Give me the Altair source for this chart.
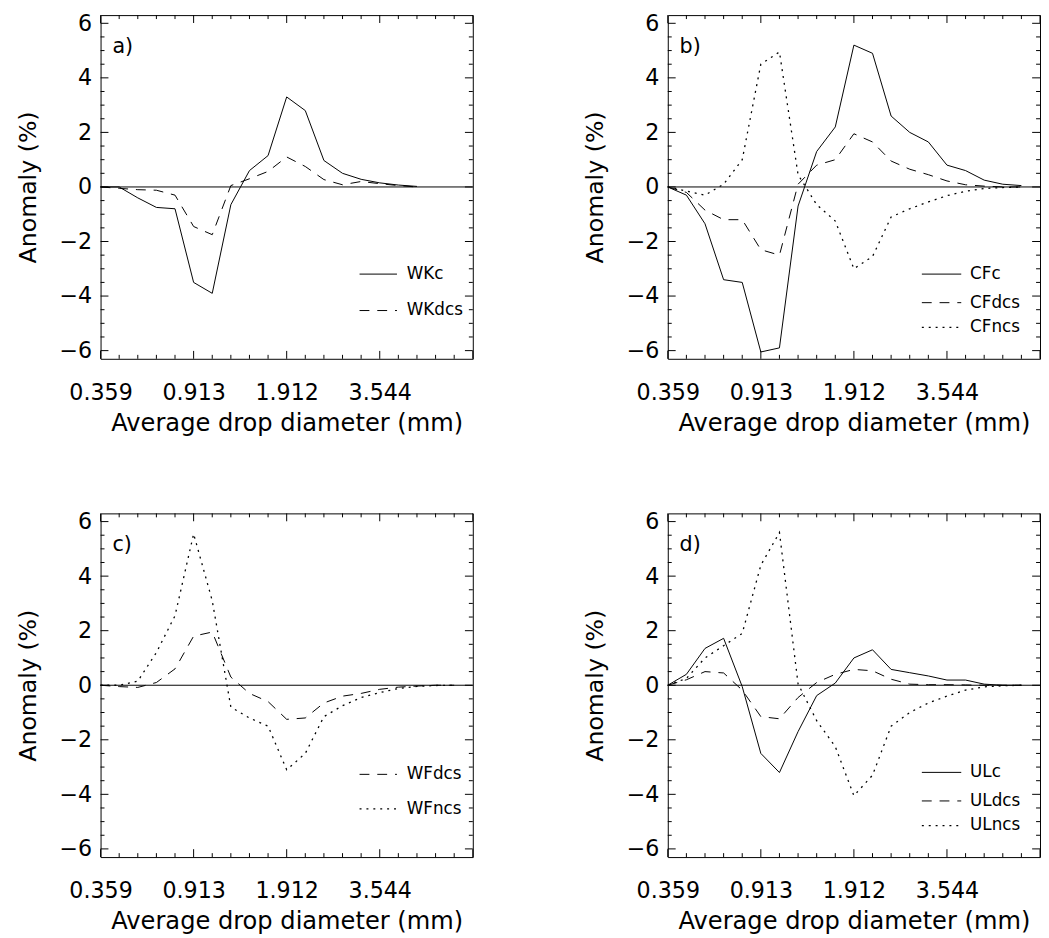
import altair as alt
import pandas as pd

FONT = "DejaVu Sans"

# x positions are bin indices 0..20; labelled bins
X_TICK_POS = [0, 5, 10, 15]
X_TICK_LABELS = ["0.359", "0.913", "1.912", "3.544"]
Y_TICKS = [-6, -4, -2, 0, 2, 4, 6]

# panel a
WKc = [0, 0, -0.4, -0.75, -0.8, -3.5, -3.9, -0.65, 0.6, 1.15, 3.3, 2.8, 0.97, 0.5, 0.28, 0.15, 0.07, 0.02]
WKdcs = [0, -0.05, -0.1, -0.12, -0.3, -1.45, -1.75, 0.05, 0.3, 0.57, 1.1, 0.75, 0.27, 0.08, 0.2, 0.12, 0.05, 0.0]
# panel b
CFc = [0, -0.3, -1.35, -3.4, -3.5, -6.05, -5.9, -0.7, 1.3, 2.2, 5.2, 4.9, 2.6, 2.0, 1.65, 0.8, 0.6, 0.25, 0.1, 0.05]
CFdcs = [0, -0.2, -0.85, -1.2, -1.2, -2.3, -2.5, 0.1, 0.8, 1.0, 1.95, 1.65, 0.95, 0.65, 0.45, 0.22, 0.08, 0.03, 0.0, 0.0]
CFncs = [0, -0.15, -0.3, 0.1, 1.0, 4.5, 4.95, 0.45, -0.65, -1.25, -3.0, -2.55, -1.1, -0.8, -0.55, -0.32, -0.16, -0.06, -0.02, 0.0]
# panel c
WFdcs = [0, -0.05, -0.08, 0.1, 0.6, 1.8, 1.95, 0.3, -0.3, -0.6, -1.25, -1.2, -0.65, -0.4, -0.3, -0.15, -0.07, -0.03, 0.0, 0.0]
WFncs = [0, 0.0, 0.15, 1.2, 2.55, 5.55, 3.1, -0.8, -1.2, -1.5, -3.1, -2.5, -1.15, -0.75, -0.45, -0.27, -0.12, -0.04, -0.01, 0.0]
# panel d
ULc = [0, 0.4, 1.35, 1.72, -0.05, -2.5, -3.2, -1.7, -0.38, 0.08, 1.0, 1.3, 0.58, 0.46, 0.34, 0.19, 0.19, 0.04, 0.0, 0.0]
ULdcs = [0, 0.2, 0.5, 0.45, -0.18, -1.15, -1.23, -0.45, 0.1, 0.4, 0.58, 0.53, 0.22, 0.04, 0.02, 0.02, 0.01, 0.0, 0.0, 0.0]
ULncs = [0, 0.25, 1.0, 1.45, 1.9, 4.4, 5.6, 0.05, -1.3, -2.25, -4.05, -3.3, -1.5, -1.0, -0.65, -0.4, -0.18, -0.06, -0.02, 0.0]

DASH = {"solid": None, "dash": [10, 8], "dot": [2, 5]}

W, H = 378, 349

label_expr = " : ".join(
    f"datum.value == {p} ? '{l}'" for p, l in zip(X_TICK_POS, X_TICK_LABELS)
) + " : ''"

x_enc = alt.X(
    "idx:Q",
    scale=alt.Scale(domain=[0, 20], nice=False, zero=False),
    axis=alt.Axis(
        values=X_TICK_POS, labelExpr=label_expr, ticks=False, tickSize=0, domain=False,
        grid=False, labelPadding=23, labelFontSize=22.5, labelFont=FONT, labelColor="black",
        title="Average drop diameter (mm)", titleFont=FONT, titleFontWeight="normal",
        titleColor="black", titleFontSize=24.5, titlePadding=8, labelFlush=False,
    ),
)
y_enc = alt.Y(
    "value:Q",
    scale=alt.Scale(domain=[-6.3, 6.3], nice=False, zero=False),
    axis=alt.Axis(
        values=Y_TICKS, ticks=False, tickSize=0, domain=False, grid=False,
        labelPadding=9, labelFontSize=22.5, labelFont=FONT, labelColor="black",
        title="Anomaly (%)", titleFont=FONT, titleFontWeight="normal", titleColor="black",
        titleFontSize=24, titlePadding=19,
    ),
)

one = pd.DataFrame({"k": [0]})


def panel(letter, entries, legend_y, lx0, lx1, ltx):
    layers = []
    layers.append(
        alt.Chart(pd.DataFrame({"value": [0.0]}))
        .mark_rule(color="black", strokeWidth=1)
        .encode(y=y_enc)
    )
    for name, vals, style in entries:
        df = pd.DataFrame({"idx": list(range(len(vals))), "value": vals})
        mk = dict(color="black", strokeWidth=1, strokeCap="butt")
        if DASH[style] is not None:
            mk["strokeDash"] = DASH[style]
        if style == "dot":
            mk["strokeWidth"] = 1.3
        layers.append(alt.Chart(df).mark_line(**mk).encode(x=x_enc, y=y_enc))
    # inward ticks
    xt = pd.DataFrame({"idx": list(range(21))})
    xt["major"] = xt["idx"] % 5 == 0
    yt = pd.DataFrame({"value": [v / 2 for v in range(-12, 13)]})
    yt["major"] = (yt["value"] % 2) == 0
    for flag, ln in ((True, 8), (False, 4)):
        xd = xt[xt["major"] == flag][["idx"]]
        yd = yt[yt["major"] == flag][["value"]]
        layers.append(alt.Chart(xd).mark_rule(color="black", strokeWidth=1).encode(
            x=x_enc, y=alt.value(H), y2=alt.value(H - ln)))
        layers.append(alt.Chart(xd).mark_rule(color="black", strokeWidth=1).encode(
            x=x_enc, y=alt.value(0), y2=alt.value(ln)))
        layers.append(alt.Chart(yd).mark_rule(color="black", strokeWidth=1).encode(
            y=y_enc, x=alt.value(0), x2=alt.value(ln)))
        layers.append(alt.Chart(yd).mark_rule(color="black", strokeWidth=1).encode(
            y=y_enc, x=alt.value(W), x2=alt.value(W - ln)))
    # panel letter
    layers.append(alt.Chart(one).mark_text(
        text=letter, align="left", baseline="middle", fontSize=21, font=FONT, color="black"
    ).encode(x=alt.value(12), y=alt.value(32)))
    # legend
    for (name, vals, style), ly in zip(entries, legend_y):
        mk = dict(color="black", strokeWidth=1, strokeCap="butt")
        if DASH[style] is not None:
            mk["strokeDash"] = DASH[style]
        if style == "dot":
            mk["strokeWidth"] = 1.3
        layers.append(alt.Chart(one).mark_rule(**mk).encode(
            x=alt.value(lx0), x2=alt.value(lx1), y=alt.value(ly)))
        layers.append(alt.Chart(one).mark_text(
            text=name, align="left", baseline="middle", fontSize=17, font=FONT, color="black"
        ).encode(x=alt.value(ltx), y=alt.value(ly)))
    return alt.layer(*layers).properties(width=W, height=H)


pa = panel("a)", [("WKc", WKc, "solid"), ("WKdcs", WKdcs, "dash")], [263, 300], 263, 301, 311)
pb = panel("b)", [("CFc", CFc, "solid"), ("CFdcs", CFdcs, "dash"), ("CFncs", CFncs, "dot")],
           [263, 292, 317], 258, 298, 307)
pc = panel("c)", [("WFdcs", WFdcs, "dash"), ("WFncs", WFncs, "dot")], [265, 300], 263, 301, 311)
pd_ = panel("d)", [("ULc", ULc, "solid"), ("ULdcs", ULdcs, "dash"), ("ULncs", ULncs, "dot")],
            [263, 292, 317], 258, 298, 307)

chart = alt.vconcat(
    alt.hconcat(pa, pb, spacing=111),
    alt.hconcat(pc, pd_, spacing=111),
    spacing=75,
).properties(
    padding={"left": 8, "top": -4, "right": 0, "bottom": 0},
    background="white",
).configure_view(
    stroke="black", strokeWidth=1
).configure_axis(
    labelFont=FONT, titleFont=FONT, labelColor="black", titleColor="black",
    titleFontWeight="normal",
)

chart.save("out.html", embed_options={"renderer": "svg", "actions": False})
